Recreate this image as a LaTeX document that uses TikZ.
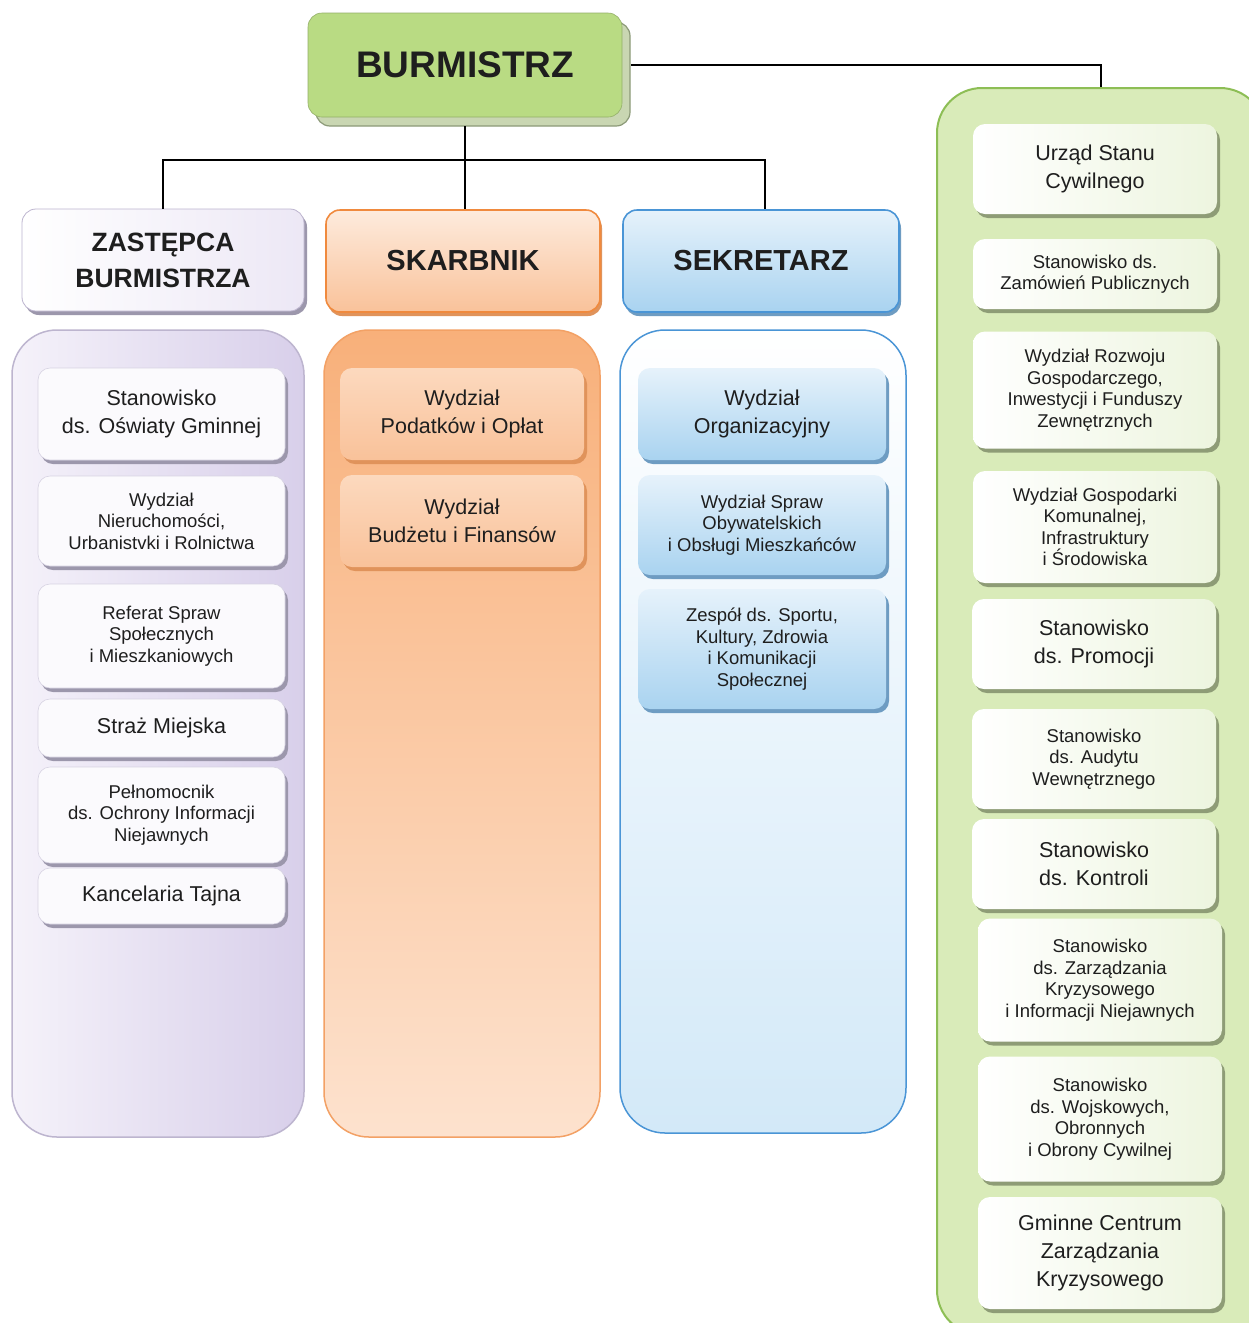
\documentclass[tikz,border=0pt]{standalone}
\usepackage{fontspec}
\setmainfont{Liberation Sans}
\usetikzlibrary{shadows}
\definecolor{txt}{HTML}{1E1E1E}
\definecolor{burfill}{HTML}{B9DB83}
\definecolor{burshadow}{HTML}{C9D6B2}
\definecolor{buredge}{HTML}{8C9A78}
\definecolor{lavA}{HTML}{F5F2FA}
\definecolor{lavB}{HTML}{D8CFEA}
\definecolor{lavline}{HTML}{BDB5CF}
\definecolor{lavshadow}{HTML}{9C97AC}
\definecolor{oraline}{HTML}{F08A3E}
\definecolor{oraA}{HTML}{F8B07A}
\definecolor{oraB}{HTML}{FDE2CE}
\definecolor{orainA}{HTML}{FCD9BE}
\definecolor{orainB}{HTML}{F9C29A}
\definecolor{orashadow}{HTML}{E0935B}
\definecolor{blueline}{HTML}{4A95D6}
\definecolor{blueB}{HTML}{D3E9F8}
\definecolor{blueinA}{HTML}{E6F2FB}
\definecolor{blueinB}{HTML}{A9D3F0}
\definecolor{blueshadow}{HTML}{6E9CC2}
\definecolor{grnline}{HTML}{8DBE55}
\definecolor{grnfill}{HTML}{D9EBB9}
\definecolor{grninB}{HTML}{EDF5DF}
\definecolor{grnshadow}{HTML}{8E9C76}
\tikzset{
  conn/.style={draw=black, line width=1.6pt},
  bigtxt/.style={font=\fontsize{21.5}{28}\selectfont},
  smalltxt/.style={font=\fontsize{18.5}{21.5}\selectfont},
  headtxt/.style={font=\fontsize{29}{36}\selectfont\bfseries},
  box/.style={rounded corners=12pt, align=center, text=txt, inner sep=0pt},
  container/.style={rounded corners=45pt, inner sep=0pt, line width=1.5pt},
  lavbox/.style={box, fill=white!60!lavA, draw=lavline!60, line width=0.6pt,
     drop shadow={shadow xshift=3pt, shadow yshift=-4pt, fill=lavshadow, opacity=1}},
  orabox/.style={box, top color=orainA, bottom color=orainB,
     drop shadow={shadow xshift=3pt, shadow yshift=-4pt, fill=orashadow, opacity=1}},
  bluebox/.style={box, top color=blueinA, bottom color=blueinB,
     drop shadow={shadow xshift=3pt, shadow yshift=-4pt, fill=blueshadow, opacity=1}},
  grnbox/.style={box, left color=white, right color=grninB,
     drop shadow={shadow xshift=3pt, shadow yshift=-4pt, fill=grnshadow, opacity=1}},
  lavcol/.style={minimum width=247pt},
  oracol/.style={minimum width=244pt},
  bluecol/.style={minimum width=248pt},
  grncol/.style={minimum width=244pt},
}
\begin{document}
\begin{tikzpicture}[x=1pt,y=-1pt]
\clip (0,0) rectangle (1249,1323);
\fill[white] (0,0) rectangle (1249,1323);

% top boss
\node[box, rounded corners=14pt, minimum width=314pt, minimum height=104pt,
  fill=burfill, draw=burfill!80!black, line width=0.6pt,
  drop shadow={shadow xshift=8pt, shadow yshift=-9pt, fill=burshadow, draw=buredge, line width=1.2pt, opacity=1},
  font=\fontsize{37}{40}\selectfont\bfseries] (bur) at (465,65) {BURMISTRZ};

% heads
\node[box, rounded corners=14pt, minimum width=282pt, minimum height=102pt,
  left color=white, right color=lavA!70!lavB, draw=lavline, line width=0.8pt,
  drop shadow={shadow xshift=3pt, shadow yshift=-4pt, fill=lavshadow, opacity=1},
  font=\fontsize{26.5}{36}\selectfont\bfseries] (zas) at (163,260) {ZASTĘPCA\\BURMISTRZA};
\node[box, rounded corners=14pt, minimum width=274pt, minimum height=102pt,
  top color=oraB!70!white, bottom color=orainB, draw=oraline, line width=1.6pt,
  drop shadow={shadow xshift=2pt, shadow yshift=-4pt, fill=orashadow, opacity=1},
  headtxt] (ska) at (463,261) {SKARBNIK};
\node[box, rounded corners=14pt, minimum width=276pt, minimum height=102pt,
  top color=blueinA, bottom color=blueinB, draw=blueline, line width=1.6pt,
  drop shadow={shadow xshift=2pt, shadow yshift=-4pt, fill=blueshadow, opacity=1},
  headtxt] (sek) at (761,261) {SEKRETARZ};

% containers
\node[container, minimum width=292pt, minimum height=807pt,
  left color=lavA, right color=lavB, draw=lavline] (lavc) at (158,733.5) {};
\node[container, minimum width=276pt, minimum height=807pt,
  top color=oraA, bottom color=oraB, draw=oraline!80] (orac) at (462,733.5) {};
\node[container, minimum width=286pt, minimum height=803pt,
  top color=white, bottom color=blueB, draw=blueline] (bluec) at (763,731.5) {};
\node[container, minimum width=328pt, minimum height=1247pt,
  fill=grnfill, draw=grnline, line width=2pt] (grnc) at (1101,711.5) {};

% left column
\node[lavbox, lavcol, minimum height=92pt, bigtxt] (l1) at (161.5,414) {Stanowisko\\ds. Oświaty Gminnej};
\node[lavbox, lavcol, minimum height=90pt, smalltxt] (l2) at (161.5,521) {Wydział\\Nieruchomości,\\Urbanistvki i Rolnictwa};
\node[lavbox, lavcol, minimum height=104pt, smalltxt] (l3) at (161.5,636) {Referat Spraw\\Społecznych\\i Mieszkaniowych};
\node[lavbox, lavcol, minimum height=58pt, bigtxt] (l4) at (161.5,728) {Straż Miejska};
\node[lavbox, lavcol, minimum height=96pt, smalltxt] (l5) at (161.5,815) {Pełnomocnik\\ds. Ochrony Informacji\\Niejawnych};
\node[lavbox, lavcol, minimum height=56pt, bigtxt] (l6) at (161.5,896) {Kancelaria Tajna};

% orange column
\node[orabox, oracol, minimum height=92pt, bigtxt] (o1) at (462,414) {Wydział\\Podatków i Opłat};
\node[orabox, oracol, minimum height=92pt, bigtxt] (o2) at (462,521) {Wydział\\Budżetu i Finansów};

% blue column
\node[bluebox, bluecol, minimum height=92pt, bigtxt] (b1) at (762,414) {Wydział\\Organizacyjny};
\node[bluebox, bluecol, minimum height=100pt, smalltxt] (b2) at (762,525) {Wydział Spraw\\Obywatelskich\\i Obsługi Mieszkańców};
\node[bluebox, bluecol, minimum height=120pt, smalltxt] (b3) at (762,649) {Zespół ds. Sportu,\\Kultury, Zdrowia\\i Komunikacji\\Społecznej};

% green column
\node[grnbox, grncol, minimum height=90pt, bigtxt] (g1) at (1095,169) {Urząd Stanu\\Cywilnego};
\node[grnbox, grncol, minimum height=70pt, smalltxt] (g2) at (1095,274) {Stanowisko ds.\\Zamówień Publicznych};
\node[grnbox, grncol, minimum height=117pt, smalltxt] (g3) at (1095,390) {Wydział Rozwoju\\Gospodarczego,\\Inwestycji i Funduszy\\Zewnętrznych};
\node[grnbox, grncol, minimum height=112pt, smalltxt] (g4) at (1095,527) {Wydział Gospodarki\\Komunalnej,\\Infrastruktury\\i Środowiska};
\node[grnbox, grncol, minimum height=90pt, bigtxt] (g5) at (1094,644) {Stanowisko\\ds. Promocji};
\node[grnbox, grncol, minimum height=100pt, smalltxt] (g6) at (1094,759) {Stanowisko\\ds. Audytu\\Wewnętrznego};
\node[grnbox, grncol, minimum height=90pt, bigtxt] (g7) at (1094,864) {Stanowisko\\ds. Kontroli};
\node[grnbox, grncol, minimum height=123pt, smalltxt] (g8) at (1100,980) {Stanowisko\\ds. Zarządzania\\Kryzysowego\\i Informacji Niejawnych};
\node[grnbox, grncol, minimum height=125pt, smalltxt] (g9) at (1100,1119) {Stanowisko\\ds. Wojskowych,\\Obronnych\\i Obrony Cywilnej};
\node[grnbox, grncol, minimum height=112pt, bigtxt] (g10) at (1100,1253) {Gminne Centrum\\Zarządzania\\Kryzysowego};

% connectors
\coordinate (bar) at (0,160);
\draw[conn] ([yshift=-9pt]bur.south) -- (bur.south |- ska.north);
\draw[conn] (zas.north) -- (zas.north |- bar) -- ([xshift=4pt]sek.north |- bar) -- ([xshift=4pt]sek.north);
\draw[conn] ([xshift=9pt]bur.east) -| (grnc.north);
\end{tikzpicture}
\end{document}
